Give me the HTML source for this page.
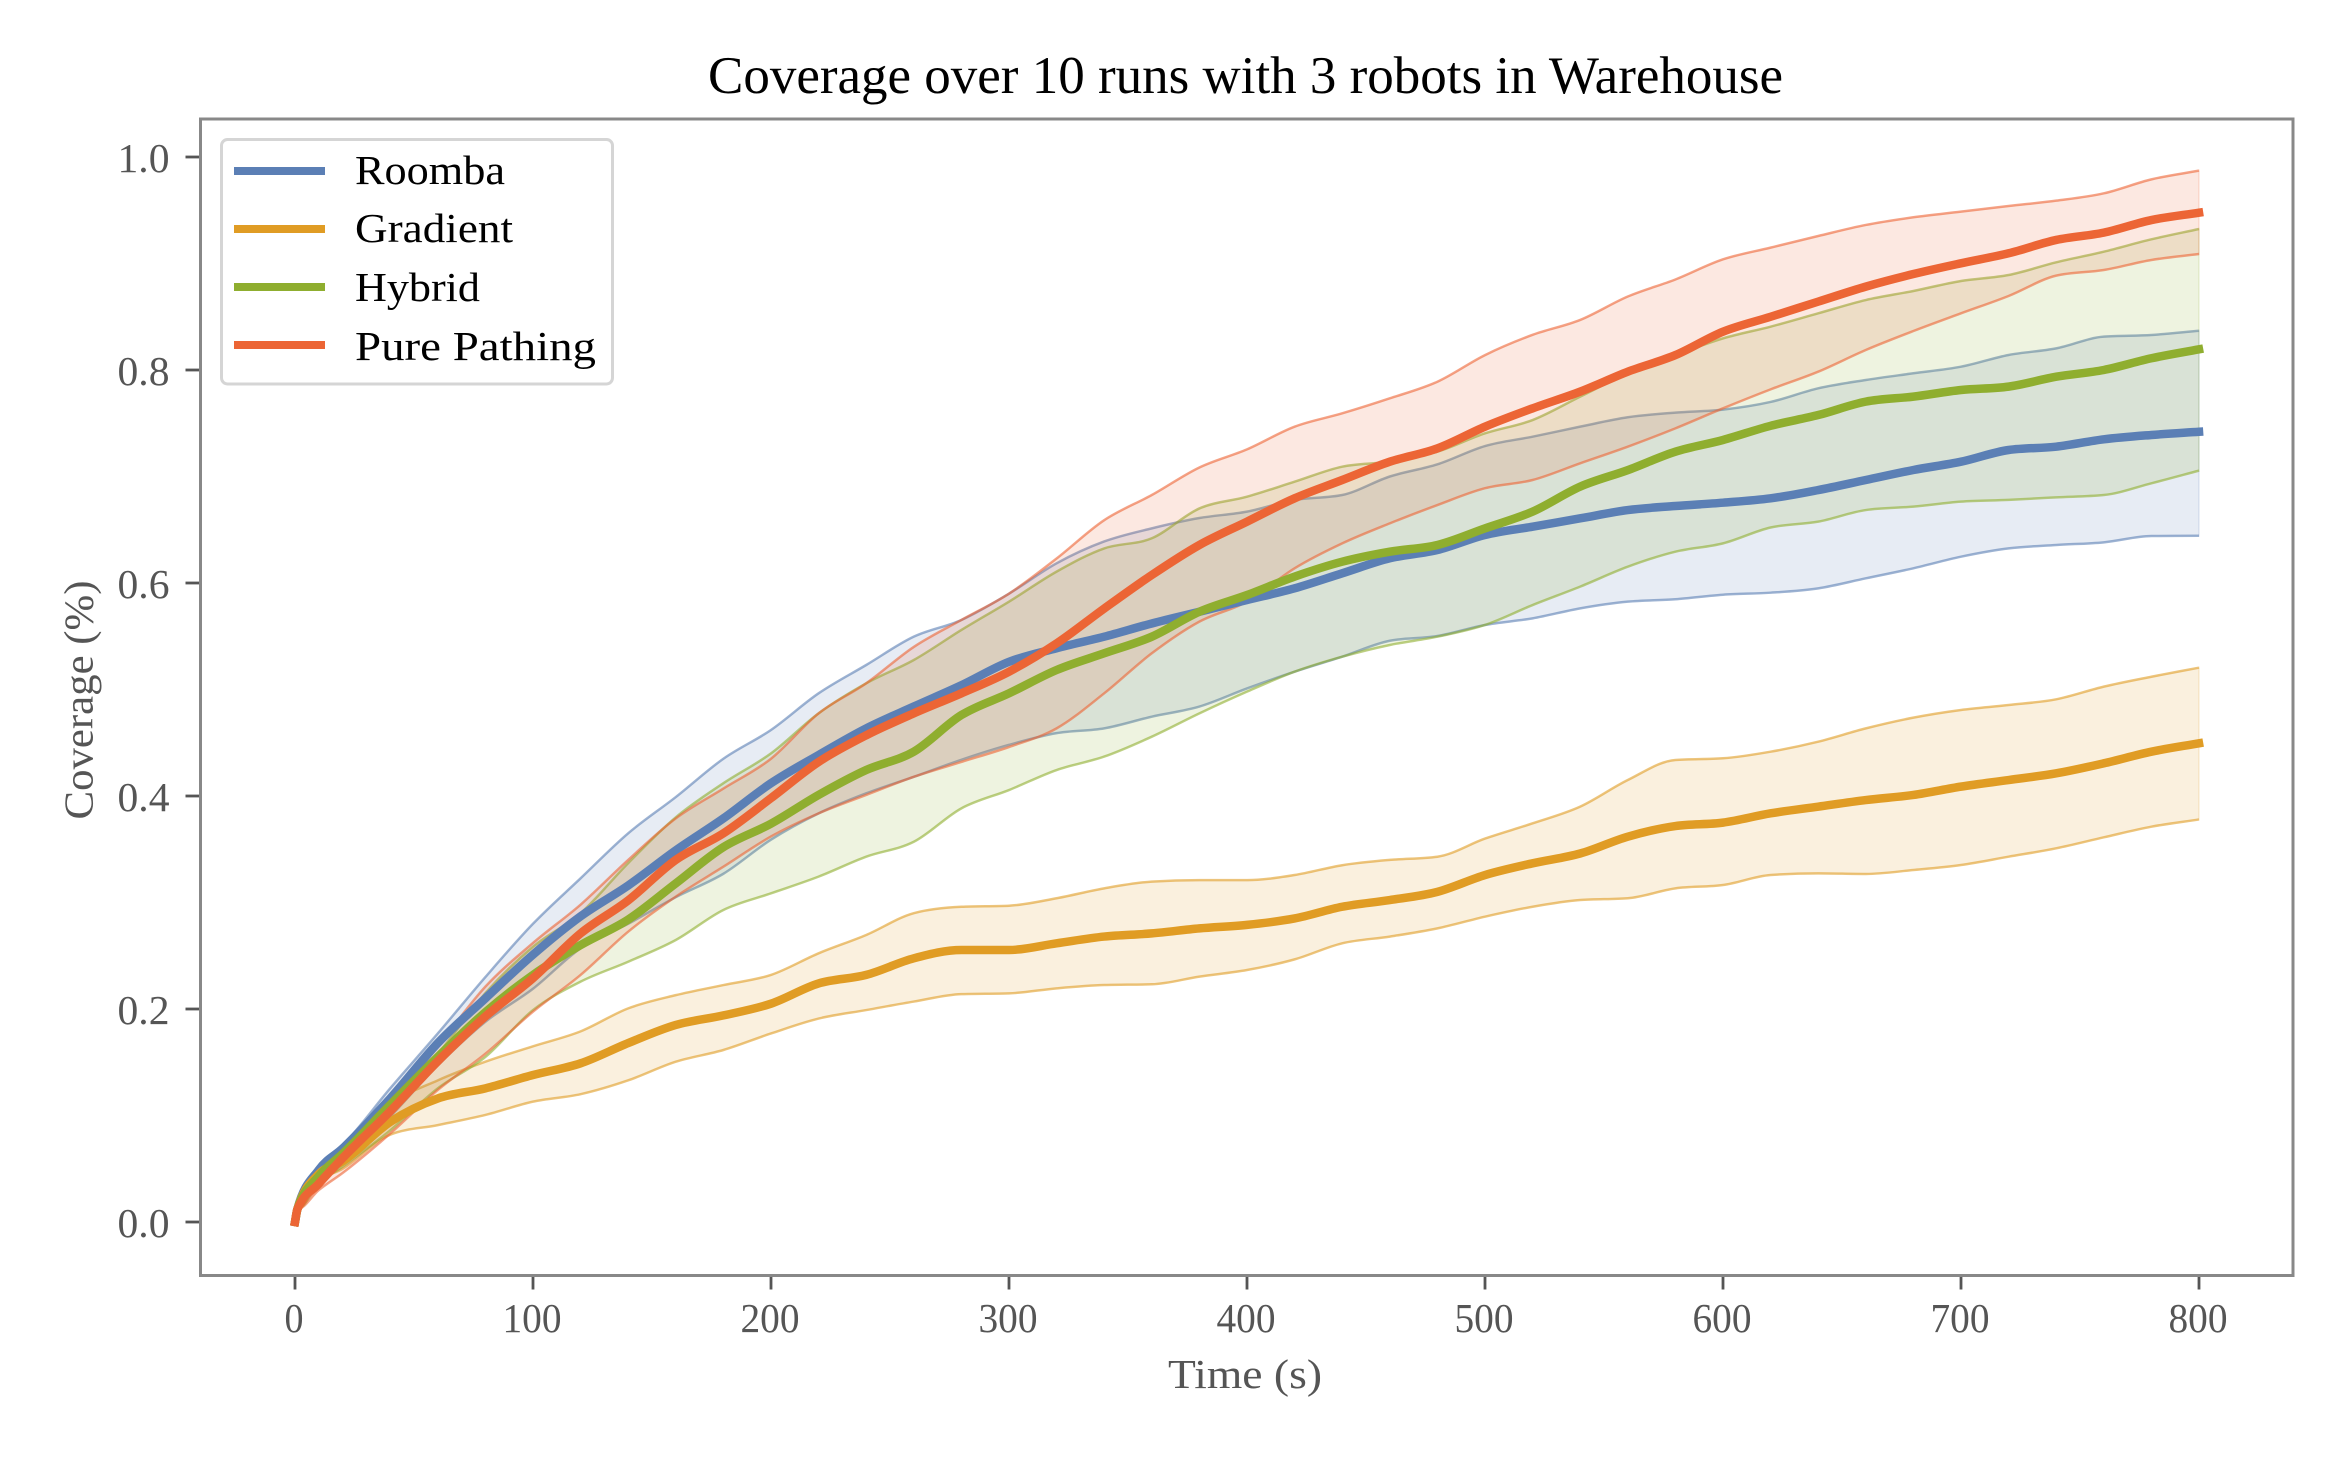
<!DOCTYPE html>
<html lang="en">
<head>
<meta charset="utf-8">
<title>Coverage over 10 runs with 3 robots in Warehouse</title>
<style>
html,body{margin:0;padding:0;background:#fff;}
svg{display:block;}
text{font-family:"Liberation Serif",serif;}
</style>
</head>
<body>
<svg id="chart" xmlns="http://www.w3.org/2000/svg" width="2352" height="1458" viewBox="0 0 2352 1458">
  <rect x="0" y="0" width="2352" height="1458" fill="#ffffff"/>
  <text x="1245.5" y="93" font-size="53" fill="#000" text-anchor="middle" textLength="1075" lengthAdjust="spacingAndGlyphs">Coverage over 10 runs with 3 robots in Warehouse</text>
  <text x="1245" y="1388" font-size="41" fill="#555" text-anchor="middle" textLength="154" lengthAdjust="spacingAndGlyphs">Time (s)</text>
  <text x="92.5" y="700" font-size="41" fill="#555" text-anchor="middle" textLength="239" lengthAdjust="spacingAndGlyphs" transform="rotate(-90 92.5 700)">Coverage (%)</text>
  <g id="bands"></g>
  <g id="means"></g>
  <g id="ticks"></g>
  <rect x="200.5" y="119" width="2092.5" height="1156.5" fill="none" stroke="#888888" stroke-width="3"/>
  <g>
    <rect x="221.5" y="139.5" width="391" height="244.5" rx="6" ry="6" fill="#ffffff" stroke="#d5d5d5" stroke-width="3"/>
    <g>
      <line x1="234" x2="325" y1="171" y2="171" stroke="#5b7fb5" stroke-width="8"/>
      <text x="355" y="184" font-size="41" fill="#000" textLength="150" lengthAdjust="spacingAndGlyphs">Roomba</text>
    </g>
    <g>
      <line x1="234" x2="325" y1="229" y2="229" stroke="#e09c24" stroke-width="8"/>
      <text x="355" y="242" font-size="41" fill="#000" textLength="158" lengthAdjust="spacingAndGlyphs">Gradient</text>
    </g>
    <g>
      <line x1="234" x2="325" y1="287" y2="287" stroke="#8fae2f" stroke-width="8"/>
      <text x="355" y="301" font-size="41" fill="#000" textLength="125" lengthAdjust="spacingAndGlyphs">Hybrid</text>
    </g>
    <g>
      <line x1="234" x2="325" y1="345" y2="345" stroke="#ec6535" stroke-width="8"/>
      <text x="355" y="360" font-size="41" fill="#000" textLength="241" lengthAdjust="spacingAndGlyphs">Pure Pathing</text>
    </g>
  </g>
</svg>
<script>
const timeSeconds = [0,1,10,20,40,60,80,100,120,140,160,180,200,220,240,260,280,300,320,340,360,380,400,420,440,460,480,500,520,540,560,580,600,620,640,660,680,700,720,740,760,780,800];
const xTickValues = [0,100,200,300,400,500,600,700,800];
const yTickValues = [0,0.2,0.4,0.6,0.8,1.0];
const yTickLabels = ['0.0','0.2','0.4','0.6','0.8','1.0'];

const roombaMean = [0,.012,.049,.069,.116,.168,.21,.251,.287,.316,.349,.379,.412,.4385,.4635,.484,.504,.526,.5387,.5496,.562,.573,.584,.595,.6091,.6232,.631,.6451,.6529,.6607,.6685,.6723,.6754,.6795,.6873,.6967,.7061,.7139,.7249,.728,.7349,.739,.742];
const roombaUpper = [.012,.014,.052,.072,.1255,.177,.23,.28,.3227,.365,.399,.435,.462,.4964,.523,.5496,.5653,.59,.6185,.639,.6513,.661,.667,.678,.6826,.70,.7114,.7286,.7374,.7468,.7556,.76,.7628,.77,.7828,.7906,.7969,.8031,.8141,.8203,.8313,.8329,.8369];
const roombaLower = [.012,.012,.042,.055,.099,.147,.188,.219,.257,.28,.305,.327,.359,.3837,.4025,.418,.434,.448,.459,.4635,.4745,.484,.501,.5167,.5308,.5458,.5502,.5606,.5668,.5762,.5825,.5847,.589,.5909,.595,.6044,.6138,.6247,.6325,.6357,.6382,.6441,.6444];

const gradientMean = [0,.012,.045,.057,.094,.116,.1255,.138,.149,.168,.185,.194,.205,.224,.232,.2476,.2554,.2554,.2617,.268,.271,.2757,.279,.285,.296,.3023,.31,.3258,.3368,.346,.3618,.3718,.375,.3837,.39,.3962,.401,.4088,.415,.4213,.4307,.4416,.4495];
const gradientUpper = [.012,.014,.047,.062,.11,.133,.1505,.165,.179,.2006,.213,.2225,.232,.2523,.2695,.29,.296,.297,.304,.3133,.3196,.321,.321,.3258,.335,.34,.343,.36,.3743,.39,.415,.4338,.4354,.4416,.451,.4635,.4736,.4808,.4854,.4908,.5027,.512,.5205];
const gradientLower = [.012,.012,.038,.05,.082,.091,.1005,.113,.12,.133,.1505,.1615,.177,.191,.199,.207,.214,.2147,.2194,.2225,.2232,.2304,.2366,.2466,.2617,.268,.2757,.2867,.296,.3023,.304,.3133,.3164,.3258,.3274,.3268,.3305,.3352,.343,.3509,.3612,.3712,.378];

const hybridMean = [0,.012,.043,.064,.11,.155,.197,.232,.26,.284,.318,.352,.374,.401,.4244,.4416,.476,.4964,.5183,.534,.5496,.573,.5887,.606,.62,.6294,.6357,.6513,.667,.6905,.706,.7233,.7343,.7476,.7577,.7703,.775,.7812,.7844,.7937,.80,.811,.8194];
const hybridUpper = [.012,.014,.046,.069,.1145,.158,.215,.2585,.29,.337,.38,.412,.44,.4776,.5058,.5277,.5559,.5825,.6107,.6325,.642,.67,.681,.6951,.7092,.714,.7233,.7405,.753,.775,.7969,.814,.8297,.8407,.8532,.8657,.8742,.8836,.8892,.9011,.9111,.9227,.9324];
const hybridLower = [.012,.012,.036,.052,.086,.1255,.155,.199,.2257,.2444,.2648,.293,.3086,.3243,.343,.357,.3884,.4056,.4244,.437,.4557,.4776,.498,.5167,.5308,.5418,.5496,.5606,.5793,.5966,.6153,.6294,.6372,.6521,.6576,.6685,.6717,.6764,.678,.6804,.6826,.6936,.7055];

const pureMean = [0,.012,.036,.06,.104,.151,.193,.229,.271,.302,.34,.365,.398,.432,.457,.4776,.4964,.5167,.5433,.576,.6075,.6357,.6576,.6795,.6967,.7139,.7264,.7468,.764,.7797,.7984,.814,.836,.85,.8642,.8783,.8901,.9002,.9096,.9221,.929,.9408,.9477];
const pureUpper = [.012,.014,.04,.068,.11,.165,.221,.262,.298,.34,.379,.407,.435,.4776,.5058,.54,.5653,.59,.623,.659,.6826,.7085,.7255,.7468,.7593,.7734,.789,.814,.833,.847,.869,.885,.9039,.9149,.9258,.9362,.9434,.9487,.954,.959,.9659,.979,.9872];
const pureLower = [.012,.012,.03,.046,.083,.124,.158,.1975,.232,.2726,.3055,.3336,.362,.3837,.401,.418,.432,.446,.4635,.4964,.534,.5637,.5825,.6138,.6372,.656,.6732,.689,.6967,.7124,.728,.7452,.764,.7818,.7984,.8188,.8366,.8532,.8695,.8886,.8939,.9033,.9089];

const seriesList = [
  {key:'roomba', color:'#5b7fb5', mean:roombaMean, upper:roombaUpper, lower:roombaLower},
  {key:'gradient', color:'#e09c24', mean:gradientMean, upper:gradientUpper, lower:gradientLower},
  {key:'hybrid', color:'#8fae2f', mean:hybridMean, upper:hybridUpper, lower:hybridLower},
  {key:'pure-pathing', color:'#ec6535', mean:pureMean, upper:pureUpper, lower:pureLower}
];

const NS = 'http://www.w3.org/2000/svg';
function xScale(t){ return 295 + t * 2.38; }
function yScale(v){ return 1222 - v * 1065; }

/* Smooth monotone cubic segments through the data points (pixel space). */
function curveSegments(values){
  const xs = timeSeconds.map(xScale);
  const ys = values.map(yScale);
  const n = xs.length;
  const slope = [];
  for (let i = 0; i < n - 1; i++) slope.push((ys[i+1] - ys[i]) / (xs[i+1] - xs[i]));
  const tan = new Array(n);
  tan[0] = slope[0];
  tan[n-1] = slope[n-2];
  for (let i = 1; i < n - 1; i++) {
    if (slope[i-1] * slope[i] <= 0) { tan[i] = 0; continue; }
    const h0 = xs[i] - xs[i-1];
    const h1 = xs[i+1] - xs[i];
    const p = (slope[i-1] * h1 + slope[i] * h0) / (h0 + h1);
    const lim = 2 * Math.min(Math.abs(slope[i-1]), Math.abs(slope[i]));
    tan[i] = Math.sign(p) * Math.min(Math.abs(p), lim);
  }
  const segs = [];
  for (let i = 0; i < n - 1; i++) {
    const h = (xs[i+1] - xs[i]) / 3;
    segs.push({
      x0:xs[i], y0:ys[i],
      c1x:xs[i] + h, c1y:ys[i] + tan[i] * h,
      c2x:xs[i+1] - h, c2y:ys[i+1] - tan[i+1] * h,
      x1:xs[i+1], y1:ys[i+1]
    });
  }
  return segs;
}
function f(n){ return n.toFixed(2); }
function forwardPath(values){
  const segs = curveSegments(values);
  let d = 'M' + f(segs[0].x0) + ',' + f(segs[0].y0);
  segs.forEach(function(s){
    d += 'C' + f(s.c1x) + ',' + f(s.c1y) + ' ' + f(s.c2x) + ',' + f(s.c2y) + ' ' + f(s.x1) + ',' + f(s.y1);
  });
  return d;
}
function reversePathTail(values){
  const segs = curveSegments(values).reverse();
  let d = 'L' + f(segs[0].x1) + ',' + f(segs[0].y1);
  segs.forEach(function(s){
    d += 'C' + f(s.c2x) + ',' + f(s.c2y) + ' ' + f(s.c1x) + ',' + f(s.c1y) + ' ' + f(s.x0) + ',' + f(s.y0);
  });
  return d;
}

const bandsG = document.getElementById('bands');
const meansG = document.getElementById('means');
const ticksG = document.getElementById('ticks');

seriesList.forEach(function(s){
  const g = document.createElementNS(NS,'g');
  
  

  const area = document.createElementNS(NS,'path');
  
  
  area.setAttribute('d', forwardPath(s.upper) + reversePathTail(s.lower) + 'Z');
  area.setAttribute('fill', s.color);
  area.setAttribute('fill-opacity', '0.15');
  area.setAttribute('stroke', s.color);
  area.setAttribute('stroke-opacity', '0.12');
  area.setAttribute('stroke-width', '2');
  g.appendChild(area);

  const up = document.createElementNS(NS,'path');
  
  
  up.setAttribute('d', forwardPath(s.upper));
  up.setAttribute('fill', 'none');
  up.setAttribute('stroke', s.color);
  up.setAttribute('stroke-opacity', '0.55');
  up.setAttribute('stroke-width', '2.5');
  g.appendChild(up);

  const lo = document.createElementNS(NS,'path');
  
  
  lo.setAttribute('d', forwardPath(s.lower));
  lo.setAttribute('fill', 'none');
  lo.setAttribute('stroke', s.color);
  lo.setAttribute('stroke-opacity', '0.55');
  lo.setAttribute('stroke-width', '2.5');
  g.appendChild(lo);
  bandsG.appendChild(g);

  const line = document.createElementNS(NS,'path');
  
  
  line.setAttribute('d', forwardPath(s.mean));
  line.setAttribute('fill', 'none');
  line.setAttribute('stroke', s.color);
  line.setAttribute('stroke-width', '8.5');
  line.setAttribute('stroke-linecap', 'square');
  line.setAttribute('stroke-linejoin', 'round');
  meansG.appendChild(line);
});

xTickValues.forEach(function(t){
  const x = xScale(t);
  const m = document.createElementNS(NS,'line');
  
  
  m.setAttribute('x1', x); m.setAttribute('x2', x);
  m.setAttribute('y1', 1275); m.setAttribute('y2', 1289.5);
  m.setAttribute('stroke', '#555555');
  m.setAttribute('stroke-width', '2.8');
  ticksG.appendChild(m);

  const label = document.createElementNS(NS,'text');
  
  
  label.setAttribute('x', x - 1);
  label.setAttribute('y', 1332);
  label.setAttribute('font-size', '41');
  label.setAttribute('fill', '#555555');
  label.setAttribute('text-anchor', 'middle');
  label.setAttribute('textLength', t === 0 ? 19 : 59);
  label.setAttribute('lengthAdjust', 'spacingAndGlyphs');
  label.textContent = String(t);
  ticksG.appendChild(label);
});

yTickValues.forEach(function(v,i){
  const y = yScale(v);
  const m = document.createElementNS(NS,'line');
  
  
  m.setAttribute('x1', 185.5); m.setAttribute('x2', 200);
  m.setAttribute('y1', y); m.setAttribute('y2', y);
  m.setAttribute('stroke', '#555555');
  m.setAttribute('stroke-width', '2.8');
  ticksG.appendChild(m);

  const label = document.createElementNS(NS,'text');
  
  
  label.setAttribute('x', 117.5);
  label.setAttribute('y', y + 15);
  label.setAttribute('font-size', '41');
  label.setAttribute('fill', '#555555');
  label.setAttribute('textLength', '52');
  label.setAttribute('lengthAdjust', 'spacingAndGlyphs');
  label.textContent = yTickLabels[i];
  ticksG.appendChild(label);
});
</script>
</body>
</html>
